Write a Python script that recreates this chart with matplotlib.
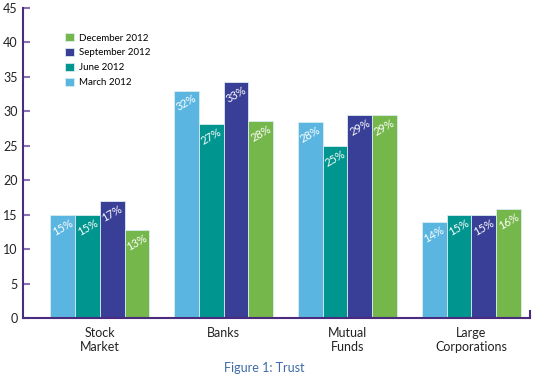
import numpy as np
import matplotlib
matplotlib.use("Agg")
import matplotlib.pyplot as plt

plt.rcParams["font.family"] = ["Lato", "DejaVu Sans"]

categories = ["Stock\nMarket", "Banks", "Mutual\nFunds", "Large\nCorporations"]
series = ["March 2012", "June 2012", "September 2012", "December 2012"]
colors = ["#5ab6e0", "#00958f", "#393e97", "#76b74b"]

# bar heights as drawn, and the labels printed on them
march = [15.0, 33.0, 28.5, 14.0]
june = [15.0, 28.1, 25.0, 15.0]
september = [17.0, 34.3, 29.5, 15.0]
december = [12.8, 28.6, 29.5, 15.8]
march_lbl = [15, 32, 28, 14]
june_lbl = [15, 27, 25, 15]
september_lbl = [17, 33, 29, 15]
december_lbl = [13, 28, 29, 16]

heights = [march, june, september, december]
labels = [march_lbl, june_lbl, september_lbl, december_lbl]

axis_col = "#4a2c7f"

fig = plt.figure(figsize=(5.5, 3.85), dpi=100)
ax = fig.add_axes([0.042, 0.173, 0.922, 0.807])

x = np.arange(len(categories))
w = 0.2
for i in range(4):
    pos = x + (i - 1.5) * w
    bars = ax.bar(pos, heights[i], width=w, color=colors[i], label=series[i],
                  edgecolor="#d8ecf0", linewidth=0.6, zorder=2)
    for b, lab in zip(bars, labels[i]):
        ax.annotate(f"{lab}%", (b.get_x() + b.get_width() / 2, b.get_height()),
                    xytext=(0, -9), textcoords="offset points", ha="center", va="center",
                    rotation=30, color="white", fontsize=8, zorder=3)

ax.set_xlim(-0.62, 3.476)
ax.set_ylim(0, 45)
ax.set_yticks(range(0, 46, 5))
ax.tick_params(axis="y", direction="in", length=5, width=1.5, color="#8b6fb8",
               labelsize=9, labelcolor="#222222", pad=4)
ax.set_xticks(x)
ax.set_xticklabels(categories, fontsize=9, color="#222222", linespacing=1.25)
ax.tick_params(axis="x", length=0, pad=6)

for s in ["top", "right"]:
    ax.spines[s].set_visible(False)
for s in ["left", "bottom"]:
    ax.spines[s].set_color(axis_col)
    ax.spines[s].set_linewidth(1.5)
ax.plot([1, 1], [0, 0.025], transform=ax.transAxes, color=axis_col, lw=1.5, clip_on=False)

h, l = ax.get_legend_handles_labels()
ax.legend(h[::-1], l[::-1], loc="upper left", bbox_to_anchor=(0.075, 0.93), frameon=False,
          fontsize=7, handlelength=0.9, handleheight=0.9, handletextpad=0.5,
          labelspacing=0.55, borderaxespad=0)

fig.text(0.48, 0.045, "Figure 1: Trust", ha="center", va="center", fontsize=9, color="#3d6aa5")

fig.savefig("out.png", dpi=100)
